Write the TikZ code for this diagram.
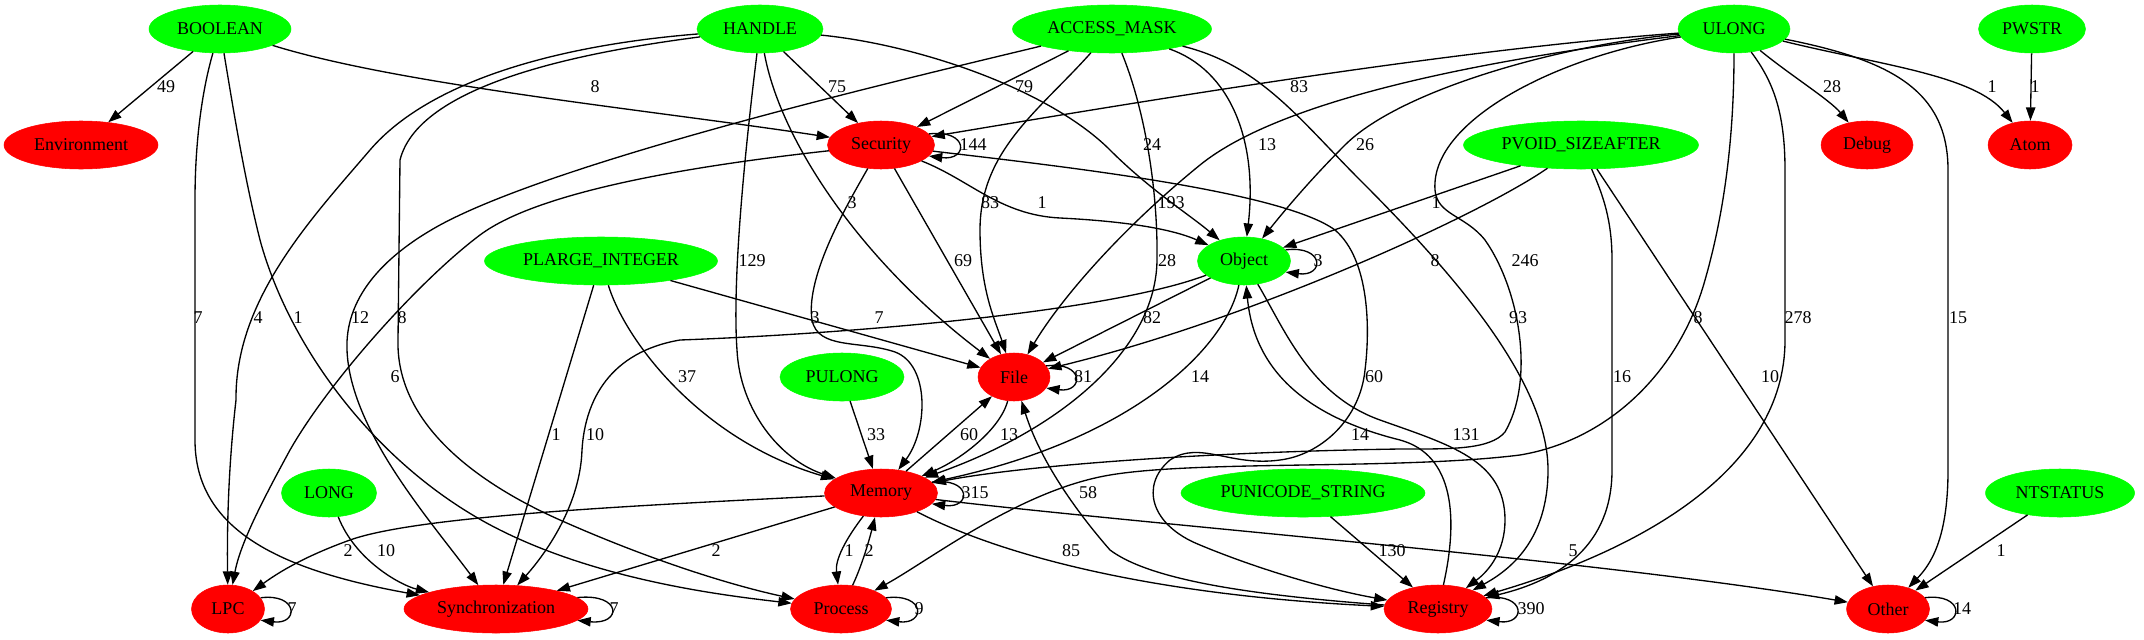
\documentclass[tikz,border=0pt]{standalone}
\usepackage{fontspec}
\setmainfont{Liberation Serif}
\usetikzlibrary{arrows.meta,shapes.geometric,calc}
\definecolor{gvgreen}{RGB}{0,255,0}
\definecolor{gvred}{RGB}{255,0,0}
\newcommand\gvloop[2]{\draw[e] (#1.#2) .. controls ($(#1.east)+(34,16)$) and ($(#1.east)+(34,-16)$) .. (#1.-#2);}
\begin{document}
\begin{tikzpicture}[x=0.75pt,y=0.75pt,font=\fontsize{13.5}{16}\selectfont,
  e/.style={draw=black,line width=1pt,-{Triangle[length=10pt,width=7pt]}},
  gn/.style={ellipse,fill=gvgreen,draw=gvgreen,inner sep=0pt,minimum height=36pt},
  rn/.style={ellipse,fill=gvred,draw=gvred,inner sep=0pt,minimum height=36pt},
  lbl/.style={inner sep=0pt}]
\useasboundingbox (0,0) rectangle (2144,-639);
% nodes
\node[gn,minimum width=106.5pt] (BOOLEAN) at (220,-29) {BOOLEAN};
\node[gn,minimum width=94.5pt] (HANDLE) at (760,-29) {HANDLE};
\node[gn,minimum width=149.25pt] (AM) at (1112,-29) {ACCESS\_MASK};
\node[gn,minimum width=84pt] (ULONG) at (1734,-29) {ULONG};
\node[gn,minimum width=80.25pt] (PWSTR) at (2032,-29) {PWSTR};
\node[rn,minimum width=115.5pt] (Environment) at (81,-145) {Environment};
\node[rn,minimum width=80.25pt] (Security) at (881,-145) {Security};
\node[gn,minimum width=176.25pt] (PVOID) at (1581,-145) {PVOID\_SIZEAFTER};
\node[rn,minimum width=69pt] (Debug) at (1867,-145) {Debug};
\node[rn,minimum width=63pt] (Atom) at (2030,-145) {Atom};
\node[gn,minimum width=174.75pt] (PLI) at (601,-261) {PLARGE\_INTEGER};
\node[gn,minimum width=69.75pt] (Object) at (1244,-261) {Object};
\node[gn,minimum width=93pt] (PULONG) at (842,-377) {PULONG};
\node[rn,minimum width=54pt] (File) at (1014,-377) {File};
\node[gn,minimum width=71.25pt] (LONG) at (329,-493) {LONG};
\node[rn,minimum width=84.75pt] (Memory) at (881,-493) {Memory};
\node[gn,minimum width=183pt] (PUS) at (1303,-493) {PUNICODE\_STRING};
\node[gn,minimum width=111.75pt] (NTSTATUS) at (2060,-493) {NTSTATUS};
\node[rn,minimum width=54.75pt] (LPC) at (228,-609) {LPC};
\node[rn,minimum width=138pt] (Sync) at (496,-609) {Synchronization};
\node[rn,minimum width=75.75pt] (Process) at (841,-609) {Process};
\node[rn,minimum width=81pt] (Registry) at (1438,-609) {Registry};
\node[rn,minimum width=62.25pt] (Other) at (1888,-609) {Other};
% BOOLEAN
\draw[e] (BOOLEAN) -- (Environment);
\draw[e] (BOOLEAN) .. controls (400,-85) and (650,-110) .. (Security);
\draw[e] (BOOLEAN) .. controls (205,-80) and (195,-130) .. (195,-200) -- (195,-440) .. controls (195,-530) and (280,-570) .. (Sync);
\draw[e] (BOOLEAN) .. controls (235,-120) and (245,-180) .. (260,-240) .. controls (290,-350) and (380,-470) .. (500,-530) .. controls (600,-580) and (720,-595) .. (Process);
% HANDLE
\draw[e] (HANDLE) -- (Security);
\draw[e] (HANDLE) .. controls (920,-45) and (1050,-90) .. (1110,-150) .. controls (1150,-190) and (1190,-215) .. (Object);
\draw[e] (HANDLE) .. controls (560,-45) and (430,-80) .. (370,-150) .. controls (310,-220) and (235,-300) .. (236,-400) .. controls (228,-470) and (227,-530) .. (LPC);
\draw[e] (HANDLE) .. controls (600,-50) and (420,-80) .. (400,-160) -- (398,-340) .. controls (396,-420) and (470,-480) .. (560,-520) .. controls (650,-560) and (730,-585) .. (Process);
\draw[e] (HANDLE) .. controls (780,-140) and (860,-260) .. (File);
\draw[e] (HANDLE) .. controls (745,-150) and (732,-280) .. (737,-350) .. controls (740,-410) and (780,-460) .. (Memory);
% ACCESS_MASK
\draw[e] (AM) -- (Security);
\draw[e] (AM) .. controls (900,-80) and (560,-160) .. (440,-225) .. controls (380,-258) and (345,-300) .. (347,-350) .. controls (350,-430) and (430,-520) .. (Sync);
\draw[e] (AM) .. controls (1040,-110) and (980,-150) .. (980,-230) .. controls (980,-290) and (995,-320) .. (File);
\draw[e] (AM) .. controls (1145,-110) and (1158,-190) .. (1157,-260) .. controls (1156,-350) and (1060,-430) .. (Memory);
\draw[e] (AM) .. controls (1230,-70) and (1258,-140) .. (Object);
\draw[e] (AM) .. controls (1260,-65) and (1300,-120) .. (1360,-180) .. controls (1450,-270) and (1548,-380) .. (1548,-470) .. controls (1548,-540) and (1510,-570) .. (Registry);
% ULONG
\draw[e] (ULONG) .. controls (1450,-50) and (1150,-100) .. (Security);
\draw[e] (ULONG) .. controls (1560,-45) and (1400,-90) .. (1345,-145) .. controls (1310,-180) and (1285,-210) .. (Object);
\draw[e] (ULONG) .. controls (1480,-60) and (1280,-100) .. (1200,-165) .. controls (1120,-230) and (1060,-300) .. (File);
\draw[e] (ULONG) .. controls (1560,-55) and (1430,-120) .. (1435,-190) .. controls (1437,-215) and (1465,-215) .. (1485,-240) .. controls (1520,-290) and (1535,-380) .. (1505,-432) .. controls (1490,-450) and (1450,-449) .. (1400,-449) .. controls (1200,-452) and (1020,-466) .. (Memory);
\draw[e] (ULONG) .. controls (1734,-120) and (1728,-200) .. (1705,-280) .. controls (1680,-370) and (1610,-440) .. (1520,-455) .. controls (1400,-470) and (1200,-460) .. (1110,-475) .. controls (1020,-490) and (930,-560) .. (Process);
\draw[e] (ULONG) .. controls (1790,-75) and (1830,-100) .. (Debug);
\draw[e] (ULONG) .. controls (1880,-65) and (1975,-75) .. (Atom);
\draw[e] (ULONG) .. controls (1890,-60) and (1948,-90) .. (1948,-170) -- (1948,-470) .. controls (1948,-540) and (1930,-565) .. (Other);
\draw[e] (ULONG) .. controls (1772,-80) and (1785,-110) .. (1785,-170) -- (1785,-340) .. controls (1785,-470) and (1640,-550) .. (Registry);
\draw[e] (PWSTR) -- (Atom);
% PVOID_SIZEAFTER
\draw[e] (PVOID) -- (Object);
\draw[e] (PVOID) .. controls (1480,-215) and (1250,-320) .. (File);
\draw[e] (PVOID) .. controls (1603,-195) and (1612,-220) .. (1612,-260) -- (1612,-470) .. controls (1612,-545) and (1560,-580) .. (Registry);
\draw[e] (PVOID) -- (Other);
% Security
\draw[e] (Security) .. controls (970,-180) and (1000,-215) .. (1060,-218) .. controls (1120,-221) and (1170,-228) .. (Object);
\draw[e] (Security) -- (File);
\draw[e] (Security) .. controls (850,-200) and (805,-275) .. (812,-320) .. controls (818,-350) and (860,-340) .. (895,-352) .. controls (930,-365) and (928,-430) .. (Memory);
\draw[e] (Security) .. controls (700,-165) and (540,-190) .. (480,-235) .. controls (420,-280) and (330,-380) .. (290,-450) .. controls (260,-505) and (240,-545) .. (LPC);
\draw[e] (Security) .. controls (1050,-165) and (1280,-190) .. (1335,-230) .. controls (1370,-260) and (1370,-330) .. (1365,-370) .. controls (1360,-420) and (1320,-455) .. (1280,-460) .. controls (1230,-467) and (1200,-440) .. (1170,-460) .. controls (1140,-485) and (1150,-525) .. (1200,-545) .. controls (1260,-570) and (1330,-590) .. (Registry);
% PLARGE_INTEGER
\draw[e] (PLI) -- (File);
\draw[e] (PLI) .. controls (625,-340) and (700,-440) .. (Memory);
\draw[e] (PLI) -- (Sync);
% Object
\draw[e] (Object) -- (File);
\draw[e] (Object) .. controls (1225,-350) and (1130,-440) .. (Memory);
\draw[e] (Object) .. controls (1100,-315) and (820,-335) .. (680,-340) .. controls (610,-352) and (585,-400) .. (582,-450) .. controls (580,-510) and (540,-560) .. (Sync);
\draw[e] (Object) .. controls (1285,-330) and (1310,-395) .. (1380,-420) .. controls (1450,-445) and (1505,-460) .. (1505,-520) .. controls (1505,-550) and (1490,-570) .. (Registry);
% lower part
\draw[e] (PULONG) -- (Memory);
\draw[e] (File) .. controls (1000,-430) and (960,-460) .. (Memory);
\draw[e] (Memory) -- (File);
\draw[e] (Memory) .. controls (650,-505) and (420,-515) .. (350,-540) .. controls (300,-558) and (275,-575) .. (LPC);
\draw[e] (Memory) -- (Sync);
\draw[e] (Memory) .. controls (845,-540) and (835,-560) .. (Process);
\draw[e] (Process) .. controls (860,-570) and (868,-545) .. (Memory);
\draw[e] (Memory) .. controls (1000,-555) and (1150,-595) .. (Registry);
\draw[e] (Memory) .. controls (1150,-525) and (1600,-560) .. (Other);
\draw[e] (LONG) .. controls (355,-560) and (400,-585) .. (Sync);
\draw[e] (PUS) -- (Registry);
\draw[e] (NTSTATUS) -- (Other);
\draw[e] (Registry) .. controls (1250,-595) and (1150,-580) .. (1110,-550) .. controls (1075,-510) and (1040,-460) .. (File);
\draw[e] (Registry) .. controls (1458,-520) and (1455,-455) .. (1400,-440) .. controls (1320,-420) and (1255,-380) .. (Object);
% self loops
\gvloop{Security}{13}
\gvloop{Object}{15}
\gvloop{File}{19}
\gvloop{Memory}{12}
\gvloop{LPC}{19}
\gvloop{Sync}{8}
\gvloop{Process}{14}
\gvloop{Registry}{13}
\gvloop{Other}{17}
% labels
\node[lbl] (l01) at (166,-87) {49};
\node[lbl] (l02) at (595,-87) {8};
\node[lbl] (l03) at (837,-87) {75};
\node[lbl] (l04) at (1024,-87) {79};
\node[lbl] (l05) at (1299,-87) {83};
\node[lbl] (l06) at (1832,-87) {28};
\node[lbl] (l07) at (1992,-87) {1};
\node[lbl] (l08) at (2035,-87) {1};
\node[lbl] (l09) at (973,-145) {144};
\node[lbl] (l10) at (1152,-145) {24};
\node[lbl] (l11) at (1267,-145) {13};
\node[lbl] (l12) at (1365,-145) {26};
\node[lbl] (l13) at (852,-203) {3};
\node[lbl] (l14) at (990,-203) {83};
\node[lbl] (l15) at (1042,-203) {1};
\node[lbl] (l16) at (1171,-203) {193};
\node[lbl] (l17) at (1436,-203) {1};
\node[lbl] (l18) at (752,-261) {129};
\node[lbl] (l19) at (963,-261) {69};
\node[lbl] (l20) at (1167,-261) {28};
\node[lbl] (l21) at (1318,-261) {3};
\node[lbl] (l22) at (1435,-261) {8};
\node[lbl] (l23) at (1525,-261) {246};
\node[lbl] (l24) at (198,-318) {7};
\node[lbl] (l25) at (258,-318) {4};
\node[lbl] (l26) at (298,-318) {1};
\node[lbl] (l27) at (360,-318) {12};
\node[lbl] (l28) at (402,-318) {8};
\node[lbl] (l29) at (815,-318) {3};
\node[lbl] (l30) at (879,-318) {7};
\node[lbl] (l31) at (1152,-318) {82};
\node[lbl] (l32) at (1518,-318) {93};
\node[lbl] (l33) at (1698,-318) {8};
\node[lbl] (l34) at (1798,-318) {278};
\node[lbl] (l35) at (1958,-318) {15};
\node[lbl] (l36) at (395,-377) {6};
\node[lbl] (l37) at (687,-377) {37};
\node[lbl] (l38) at (1083,-377) {81};
\node[lbl] (l39) at (1200,-377) {14};
\node[lbl] (l40) at (1374,-377) {60};
\node[lbl] (l41) at (1622,-377) {16};
\node[lbl] (l42) at (1770,-377) {10};
\node[lbl] (l43) at (556,-435) {1};
\node[lbl] (l44) at (595,-435) {10};
\node[lbl] (l45) at (876,-435) {33};
\node[lbl] (l46) at (969,-435) {60};
\node[lbl] (l47) at (1009,-435) {13};
\node[lbl] (l48) at (1360,-435) {14};
\node[lbl] (l49) at (1466,-435) {131};
\node[lbl] (l50) at (975,-493) {315};
\node[lbl] (l51) at (1088,-493) {58};
\node[lbl] (l52) at (348,-551) {2};
\node[lbl] (l53) at (386,-551) {10};
\node[lbl] (l54) at (716,-551) {2};
\node[lbl] (l55) at (849,-551) {1};
\node[lbl] (l56) at (869,-551) {2};
\node[lbl] (l57) at (1071,-551) {85};
\node[lbl] (l58) at (1392,-551) {130};
\node[lbl] (l59) at (1573,-551) {5};
\node[lbl] (l60) at (2001,-551) {1};
\node[lbl] (l61) at (292,-609) {7};
\node[lbl] (l62) at (614,-609) {7};
\node[lbl] (l63) at (919,-609) {9};
\node[lbl] (l64) at (1531,-609) {390};
\node[lbl] (l65) at (1962,-609) {14};
\end{tikzpicture}
\end{document}
